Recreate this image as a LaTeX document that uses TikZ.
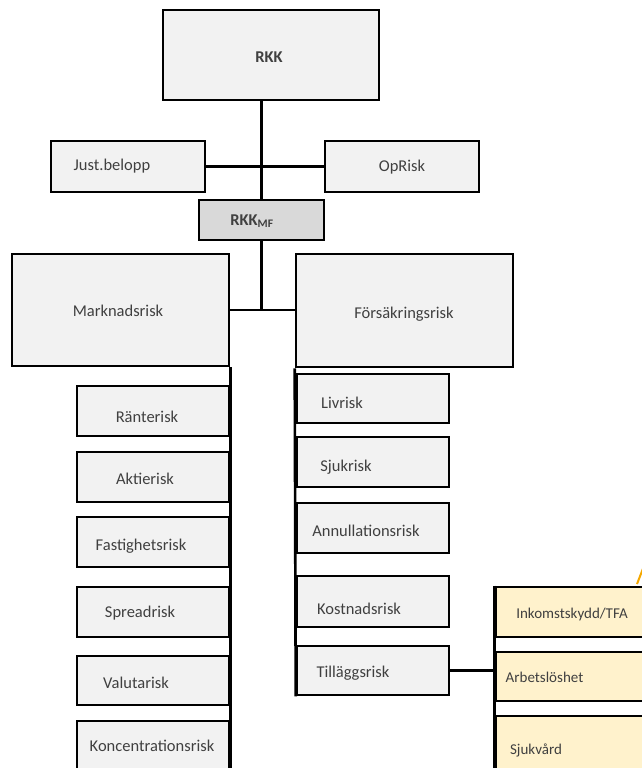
\documentclass[tikz,border=0pt]{standalone}
\usepackage{fontspec}
\setmainfont{Carlito}
\usepackage{tikz}
\definecolor{boxgray}{HTML}{F2F2F2}
\definecolor{mfgray}{HTML}{D9D9D9}
\definecolor{tillagg}{HTML}{FFF2CC}
\definecolor{txtgray}{HTML}{404040}
\definecolor{callout}{HTML}{F5A800}
\tikzset{box/.style={draw, line width=2.6pt, fill=boxgray, inner sep=0pt},
    -link-/.style={line width=2.6pt},
    lbl/.style={text=txtgray, inner sep=0pt, font=\fontsize{16.5}{20}\selectfont},
    sublbl/.style={lbl, font=\fontsize{15}{18}\selectfont}
}

\begin{document}
\begin{tikzpicture}[x=1pt,y=-1pt]
                \clip (0,0) rectangle (642,768);
                \fill[white] (0,0) rectangle (642,768);

                % top of the tree
                \node[box, minimum width=216, minimum height=90] (rkk) at (271,55) {};
                \node[box, minimum width=154, minimum height=51] (just) at (128,166.5) {};
                \node[box, minimum width=154, minimum height=51] (oprisk) at (402,166.5) {};
                \node[box, fill=mfgray, minimum width=125, minimum height=40] (rkkmf) at (261.5,220) {};
                \node[box, minimum width=217, minimum height=112] (mark) at (120.5,310) {};
                \node[box, minimum width=217, minimum height=113] (fors) at (404.5,310.5) {};

                % Marknadsrisk column
                \node[box, minimum width=152, minimum height=50] (ranta) at (153,411) {};
                \node[box, minimum width=152, minimum height=50] (aktie) at (153,477) {};
                \node[box, minimum width=152, minimum height=50] (fastighet) at (153,542) {};
                \node[box, minimum width=152, minimum height=50] (spread) at (153,612) {};
                \node[box, minimum width=152, minimum height=49] (valuta) at (153,680.5) {};
                \node[box, minimum width=152, minimum height=69] (konc) at (153,755.5) {};

                % Forsakringsrisk column
                \node[box, minimum width=152, minimum height=49] (liv) at (373,398.5) {};
                \node[box, minimum width=152, minimum height=50] (sjuk) at (373,462) {};
                \node[box, minimum width=152, minimum height=50] (annul) at (373,528) {};
                \node[box, minimum width=152, minimum height=51] (kostnad) at (373,601.5) {};
                \node[box, minimum width=152, minimum height=49] (tillagg) at (373,670.5) {};

                % Tillaggsrisk parts
                \node[box, fill=tillagg, minimum width=164, minimum height=50] (inkomst) at (578,612) {};
                \node[box, fill=tillagg, minimum width=164, minimum height=49] (arbets) at (578,676.5) {};
                \node[box, fill=tillagg, minimum width=164, minimum height=74] (sjukvard) at (578,753) {};

                \draw[-link-] (rkkmf.north) -- (rkkmf.north |- rkk.south);
                \draw[-link-] (just.east) -- (oprisk.west);
                \draw[-link-] (rkkmf.south) -- (rkkmf.south |- mark.east);
                \draw[-link-] (mark.east) -- (mark.east -| fors.west);
                \draw[-link-] (mark.south east) -- (konc.south east);
                \draw[-link-] (fors.south west) -- (tillagg.south west);
                \draw[-link-] (tillagg.east) -- (tillagg.east -| inkomst.west);
                \draw[-link-] (inkomst.north west) -- (sjukvard.south west);

                \coordinate (pil-a) at (637,584);
                \coordinate (pil-b) at (644,566);
                \draw[callout, line width=2pt] (pil-a) -- (pil-b);

                \node[lbl, font=\bfseries\fontsize{16.5}{20}\selectfont] (t-rkk) at (269,57) {RKK};
                \node[lbl] (t-just) at (112,166) {Just.belopp};
                \node[lbl] (t-oprisk) at (402,167) {OpRisk};
                \node[lbl, font=\bfseries\fontsize{16.5}{20}\selectfont] (t-rkkmf) at (252,221) {RKK\textsubscript{MF}};
                \node[lbl] (t-mark) at (118,311) {Marknadsrisk};
                \node[lbl] (t-fors) at (404,314) {Försäkringsrisk};

                \node[lbl] (t-ranta) at (147,417) {Ränterisk};
                \node[lbl] (t-aktie) at (145,479) {Aktierisk};
                \node[lbl] (t-fastighet) at (141,546) {Fastighetsrisk};
                \node[lbl] (t-spread) at (140,613) {Spreadrisk};
                \node[lbl] (t-valuta) at (136,683) {Valutarisk};
                \node[lbl] (t-konc) at (152,746) {Koncentrationsrisk};

                \node[lbl] (t-liv) at (342,403) {Livrisk};
                \node[lbl] (t-sjuk) at (346,467) {Sjukrisk};
                \node[lbl] (t-annul) at (366,531) {Annullationsrisk};
                \node[lbl] (t-kostnad) at (359,609) {Kostnadsrisk};
                \node[lbl] (t-tillagg) at (353,673) {Tilläggsrisk};

                \node[sublbl] (t-inkomst) at (572,614) {Inkomstskydd/TFA};
                \node[sublbl] (t-arbets) at (544.5,677) {Arbetslöshet};
                \node[sublbl] (t-sjukvard) at (536,750) {Sjukvård};
            \end{tikzpicture}
\end{document}
